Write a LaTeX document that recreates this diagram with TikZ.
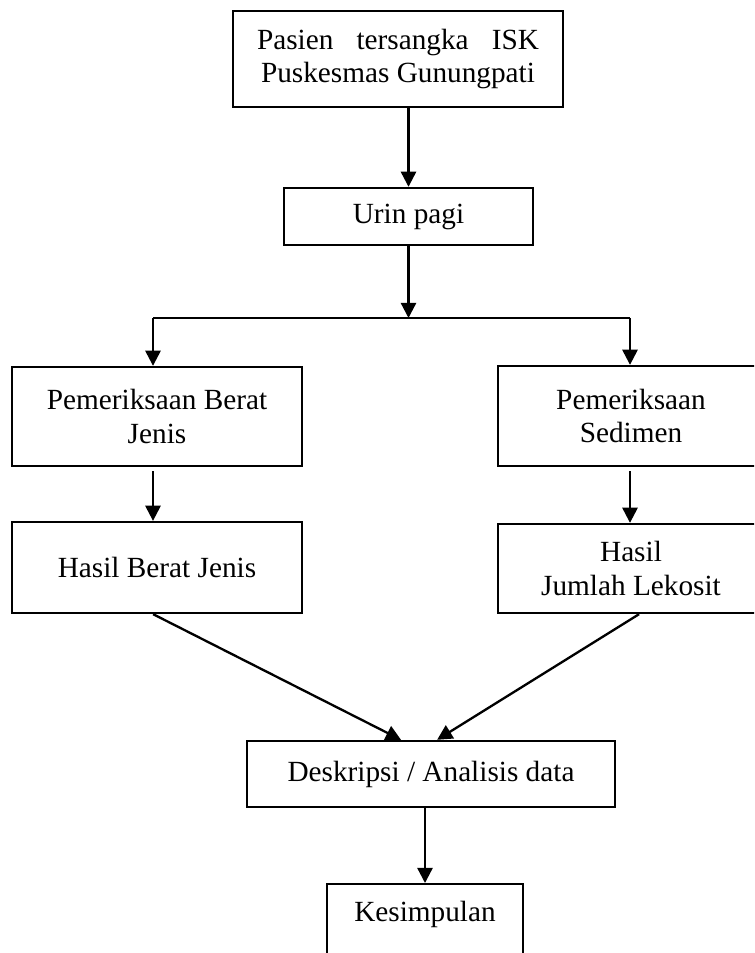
\documentclass[tikz,border=0pt]{standalone}
\usepackage{fontspec}
\setmainfont{Liberation Serif}
\usetikzlibrary{arrows.meta}

\begin{document}
\begin{tikzpicture}[x=0.41pt,y=-0.41pt,font=\fontsize{12pt}{13.7pt}\selectfont,line width=0.95pt,
  kotak/.style={draw,align=center,inner sep=2pt},
  panah/.style={-{Triangle[length=6.2pt,width=6.2pt]}}]
  \useasboundingbox (0,0) rectangle (754,953);
  \clip (0,0) rectangle (754,953);
  % kotak
  \node[kotak,minimum width=135.3pt,minimum height=39.4pt] (pasien) at (398,59)
    {\makebox[115.6pt][s]{Pasien tersangka ISK}\\Puskesmas Gunungpati};
  \node[kotak,minimum width=102.1pt,minimum height=23.4pt] (urin) at (408.5,216.5) {Urin pagi};
  \node[kotak,minimum width=118.9pt,minimum height=40.6pt] (pbj) at (157,416.5) {Pemeriksaan Berat\\Jenis};
  \node[kotak,minimum width=109.1pt,minimum height=41pt] (psed) at (631,416) {Pemeriksaan\\Sedimen};
  \node[kotak,minimum width=118.9pt,minimum height=37.3pt] (hbj) at (157,567.5) {Hasil Berat Jenis};
  \node[kotak,minimum width=109.1pt,minimum height=36.5pt] (hjl) at (631,568.5) {Hasil\\Jumlah Lekosit};
  \node[kotak,minimum width=150.9pt,minimum height=27.1pt] (desk) at (431,774) {Deskripsi / Analisis data};
  \node[kotak,minimum width=80.4pt,anchor=north,text height=8.5pt,text depth=40pt,inner ysep=7pt] (kes) at (425,883) {Kesimpulan};
  % panah
  \coordinate (kiri) at (153,318);
  \coordinate (kanan) at (630,318);
  \draw[panah] (pasien.south -| urin.north) -- (urin.north);
  \draw[panah] (urin.south) -- (urin.south |- kiri);
  \draw (kiri) -- (kanan);
  \draw[panah] (kiri) -- (kiri |- pbj.north);
  \draw[panah] (kanan) -- (kanan |- psed.north);
  \draw[panah] ([yshift=-1.6pt]pbj.south -| kiri) -- (kiri |- hbj.north);
  \draw[panah] ([yshift=-1.6pt]psed.south -| kanan) -- (kanan |- hjl.north);
  \draw[panah] ([xshift=-1.6pt]hbj.south) -- ([xshift=-12.3pt]desk.north);
  \draw[panah] ([xshift=3.3pt]hjl.south) -- ([xshift=2.5pt]desk.north);
  \draw[panah] (desk.south -| kes.north) -- (kes.north);
\end{tikzpicture}
\end{document}
